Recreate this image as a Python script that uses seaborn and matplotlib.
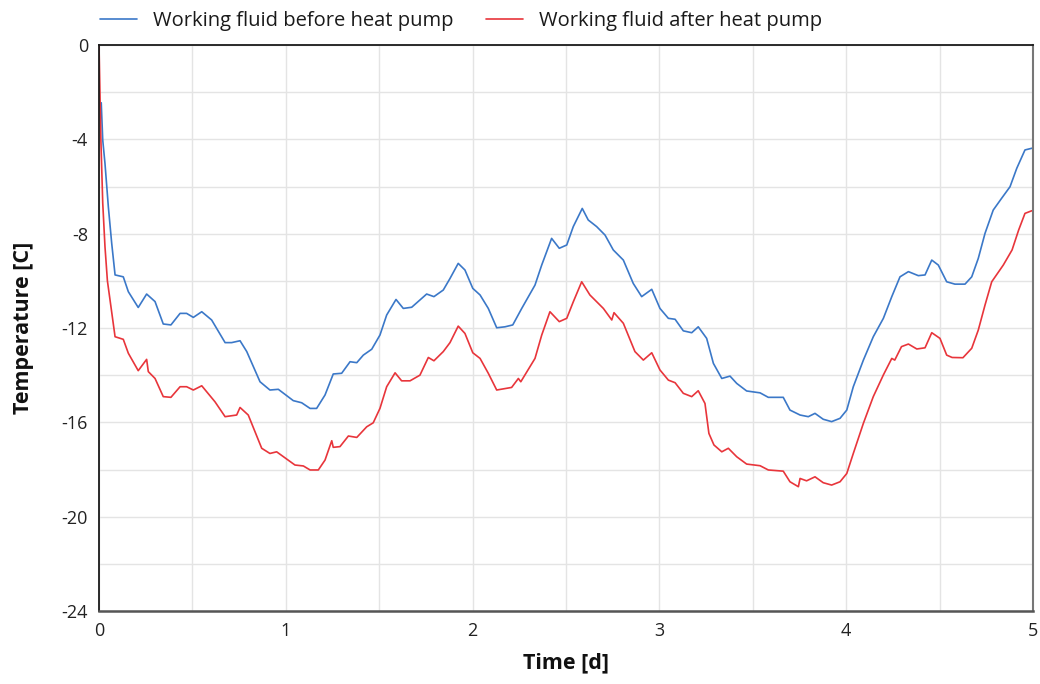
import numpy as np
import pandas as pd
import matplotlib
matplotlib.use("Agg")
import matplotlib.pyplot as plt
import seaborn as sns

# Working fluid temperature before the heat pump (time in days, temperature in C)
before_t = [0.012, 0.020, 0.032, 0.050, 0.068, 0.086, 0.130, 0.157, 0.210, 0.255, 0.300, 0.344,
            0.385, 0.434, 0.469, 0.505, 0.550, 0.603, 0.675, 0.710, 0.755, 0.791, 0.862, 0.915,
            0.960, 1.040, 1.085, 1.130, 1.165, 1.210, 1.254, 1.299, 1.344, 1.380, 1.415, 1.460,
            1.504, 1.540, 1.590, 1.629, 1.674, 1.754, 1.793, 1.843, 1.879, 1.923, 1.959, 2.001,
            2.040, 2.084, 2.129, 2.173, 2.215, 2.263, 2.334, 2.370, 2.423, 2.464, 2.504, 2.539,
            2.587, 2.619, 2.664, 2.709, 2.753, 2.807, 2.860, 2.905, 2.959, 3.003, 3.048, 3.084,
            3.128, 3.173, 3.208, 3.253, 3.289, 3.334, 3.378, 3.414, 3.467, 3.539, 3.583, 3.663,
            3.699, 3.753, 3.797, 3.833, 3.877, 3.922, 3.967, 4.003, 4.038, 4.092, 4.145, 4.199,
            4.244, 4.288, 4.333, 4.386, 4.422, 4.458, 4.493, 4.538, 4.582, 4.636, 4.672, 4.707,
            4.743, 4.787, 4.832, 4.877, 4.913, 4.957, 4.993, 5.000]
before_temp = [-2.45, -4.03, -5.02, -6.86, -8.41, -9.75, -9.83, -10.46, -11.13, -10.56, -10.88, -11.83,
               -11.87, -11.38, -11.38, -11.55, -11.31, -11.66, -12.62, -12.62, -12.54, -13.00, -14.28, -14.63,
               -14.60, -15.08, -15.17, -15.41, -15.41, -14.84, -13.95, -13.92, -13.43, -13.47, -13.15, -12.90,
               -12.30, -11.45, -10.79, -11.17, -11.12, -10.56, -10.67, -10.39, -9.90, -9.26, -9.54, -10.32,
               -10.60, -11.17, -11.99, -11.95, -11.87, -11.17, -10.18, -9.33, -8.20, -8.62, -8.48, -7.70,
               -6.93, -7.42, -7.70, -8.06, -8.69, -9.12, -10.11, -10.67, -10.36, -11.17, -11.59, -11.63,
               -12.12, -12.20, -11.95, -12.44, -13.50, -14.14, -14.04, -14.35, -14.67, -14.75, -14.94, -14.94,
               -15.48, -15.69, -15.76, -15.62, -15.87, -15.97, -15.83, -15.48, -14.49, -13.36, -12.37, -11.59,
               -10.67, -9.83, -9.61, -9.78, -9.75, -9.12, -9.33, -10.04, -10.14, -10.14, -9.83, -9.05,
               -7.99, -7.00, -6.50, -6.01, -5.23, -4.45, -4.38, -4.38]

# Working fluid temperature after the heat pump
after_t = [0.000, 0.010, 0.020, 0.032, 0.045, 0.086, 0.130, 0.157, 0.210, 0.255, 0.264, 0.300,
           0.344, 0.385, 0.434, 0.469, 0.505, 0.550, 0.621, 0.675, 0.737, 0.755, 0.799, 0.871,
           0.915, 0.951, 1.049, 1.094, 1.130, 1.174, 1.210, 1.246, 1.254, 1.290, 1.335, 1.380,
           1.433, 1.468, 1.504, 1.540, 1.585, 1.620, 1.665, 1.718, 1.763, 1.793, 1.843, 1.879,
           1.923, 1.959, 2.001, 2.040, 2.084, 2.129, 2.209, 2.245, 2.258, 2.334, 2.370, 2.414,
           2.464, 2.504, 2.539, 2.584, 2.628, 2.700, 2.745, 2.757, 2.807, 2.869, 2.914, 2.959,
           3.003, 3.048, 3.084, 3.128, 3.173, 3.208, 3.244, 3.265, 3.292, 3.334, 3.369, 3.414,
           3.467, 3.539, 3.583, 3.663, 3.699, 3.744, 3.753, 3.788, 3.833, 3.877, 3.922, 3.967,
           4.003, 4.038, 4.092, 4.145, 4.199, 4.244, 4.260, 4.296, 4.333, 4.378, 4.422, 4.458,
           4.502, 4.538, 4.567, 4.625, 4.672, 4.707, 4.743, 4.779, 4.841, 4.888, 4.923, 4.957,
           4.993, 5.000]
after_temp = [0.00, -4.00, -6.70, -8.55, -10.00, -12.37, -12.48, -13.07, -13.81, -13.33, -13.85, -14.14,
              -14.91, -14.94, -14.49, -14.49, -14.63, -14.45, -15.13, -15.76, -15.69, -15.37, -15.69, -17.10,
              -17.32, -17.25, -17.81, -17.85, -18.02, -18.02, -17.60, -16.78, -17.06, -17.03, -16.58, -16.64,
              -16.19, -16.02, -15.41, -14.49, -13.90, -14.24, -14.24, -14.00, -13.25, -13.39, -13.00, -12.62,
              -11.92, -12.23, -13.05, -13.29, -13.92, -14.63, -14.52, -14.14, -14.28, -13.29, -12.30, -11.31,
              -11.73, -11.59, -10.89, -10.04, -10.60, -11.17, -11.66, -11.35, -11.80, -13.00, -13.36, -13.05,
              -13.78, -14.21, -14.32, -14.77, -14.91, -14.66, -15.20, -16.47, -16.96, -17.25, -17.10, -17.46,
              -17.77, -17.84, -18.02, -18.07, -18.52, -18.73, -18.38, -18.48, -18.31, -18.56, -18.66, -18.52,
              -18.17, -17.32, -16.04, -14.91, -13.99, -13.29, -13.36, -12.79, -12.68, -12.89, -12.84, -12.20,
              -12.44, -13.15, -13.25, -13.26, -12.86, -12.09, -11.03, -10.04, -9.33, -8.69, -7.85, -7.14,
              -7.03, -7.03]

series_names = ["Working fluid before heat pump", "Working fluid after heat pump"]
series_colors = ["#3b78c8", "#e8353b"]

y_ticks = [0, -4, -8, -12, -16, -20, -24]
x_ticks = [0, 1, 2, 3, 4, 5]

sns.set_theme(style="white")
plt.rcParams["font.family"] = ["Open Sans", "DejaVu Sans"]

fig = plt.figure(figsize=(10.4, 6.84), dpi=100)
ax = fig.add_axes([99 / 1040, 1 - 611 / 684, (1033 - 99) / 1040, (611 - 45) / 684])

df = pd.concat([
    pd.DataFrame({"Time": before_t, "Temperature": before_temp, "Series": series_names[0]}),
    pd.DataFrame({"Time": after_t, "Temperature": after_temp, "Series": series_names[1]}),
])
sns.lineplot(data=df, x="Time", y="Temperature", hue="Series", palette=series_colors,
             hue_order=series_names, sort=False, estimator=None, linewidth=1.2, ax=ax)

ax.set_xlim(0, 5)
ax.set_ylim(-24, 0)
ax.set_xticks(x_ticks)
ax.set_xticks(np.arange(0, 5.01, 0.5), minor=True)
ax.set_yticks(y_ticks)
ax.set_yticks(np.arange(-24, 0.01, 2), minor=True)
ax.set_xticklabels([str(v) for v in x_ticks])
ax.set_yticklabels([str(v) for v in y_ticks])
ax.grid(True, which="both", color="#e4e4e4", linewidth=1.0)
ax.set_axisbelow(True)

ax.tick_params(axis="both", which="both", direction="out", length=6, width=1.0,
               color="#222222", labelsize=13, labelcolor="#222222", pad=2)
ax.tick_params(axis="both", which="minor", length=6)

for side in ["left", "top"]:
    ax.spines[side].set_color("#1a1a1a")
    ax.spines[side].set_linewidth(1.3)
ax.spines["bottom"].set_color("#555555")
ax.spines["bottom"].set_linewidth(1.8)
ax.spines["right"].set_color("#777777")
ax.spines["right"].set_linewidth(1.5)

ax.set_xlabel("Time [d]", fontsize=15.5, fontweight="bold", color="#111111", labelpad=9)
ax.set_ylabel("Temperature [C]", fontsize=15.5, fontweight="bold", color="#111111", labelpad=20)

handles, labels = ax.get_legend_handles_labels()
ax.legend(handles, labels, loc="lower left", bbox_to_anchor=(1 / 934, 1.024), ncol=2,
          frameon=False, fontsize=14.5, handlelength=1.85, handletextpad=0.8,
          columnspacing=1.6, borderaxespad=0.0, borderpad=0.0, labelcolor="#1a1a1a")

fig.savefig("out.png", dpi=100)
